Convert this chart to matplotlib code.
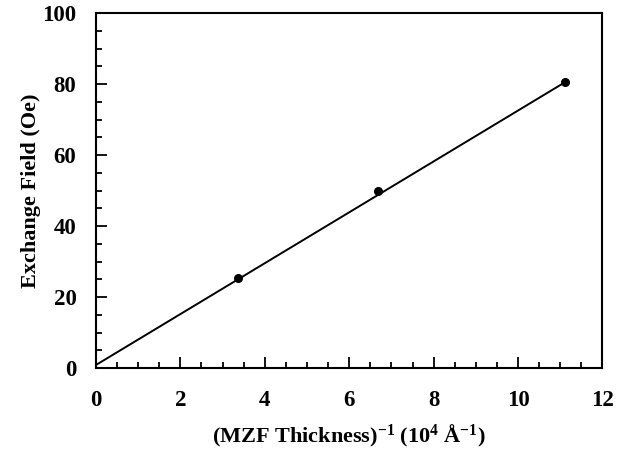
import matplotlib.pyplot as plt
from matplotlib.ticker import MultipleLocator

plt.rcParams['font.family'] = ['Liberation Serif', 'DejaVu Serif']
plt.rcParams['font.weight'] = 'bold'
plt.rcParams['mathtext.fontset'] = 'custom'
plt.rcParams['mathtext.rm'] = 'Liberation Serif:bold'
plt.rcParams['mathtext.it'] = 'Liberation Serif:bold'
plt.rcParams['mathtext.bf'] = 'Liberation Serif:bold'

# inverse MZF thickness (10^4 1/A) and exchange field (Oe)
inv_thickness = [3.36, 6.68, 11.12]
exchange_field = [25.4, 50.0, 80.6]

# straight-line fit as drawn in the figure
fit_x = [0, 11.12]
fit_y = [0.9, 80.6]

fig = plt.figure(figsize=(6.23, 4.54), dpi=100)
ax = fig.add_axes([0.154, 0.189, 0.813, 0.782])

ax.plot(fit_x, fit_y, color='black', lw=1.4)
ax.plot(inv_thickness, exchange_field, 'o', color='black', ms=5.5)

ax.set_xlim(0, 12)
ax.set_ylim(0, 100)
ax.xaxis.set_major_locator(MultipleLocator(2))
ax.xaxis.set_minor_locator(MultipleLocator(0.5))
ax.yaxis.set_major_locator(MultipleLocator(20))
ax.yaxis.set_minor_locator(MultipleLocator(5))
ax.tick_params(which='both', direction='in', width=1.3, labelsize=16.5)
ax.tick_params(axis='x', pad=16)
ax.tick_params(axis='y', pad=14)
ax.tick_params(which='major', length=8)
ax.tick_params(which='minor', length=4.5)
for lab in ax.get_xticklabels() + ax.get_yticklabels():
    lab.set_fontweight('bold')
for s in ax.spines.values():
    s.set_linewidth(1.5)

ax.set_xlabel(r'(MZF Thickness)$^{-1}$ (10$^{4}$ Å$^{-1}$)',
              fontsize=16, fontweight='bold', labelpad=8)
ax.set_ylabel('Exchange Field (Oe)', fontsize=16, fontweight='bold', labelpad=1)

fig.savefig('out.png', dpi=100)
